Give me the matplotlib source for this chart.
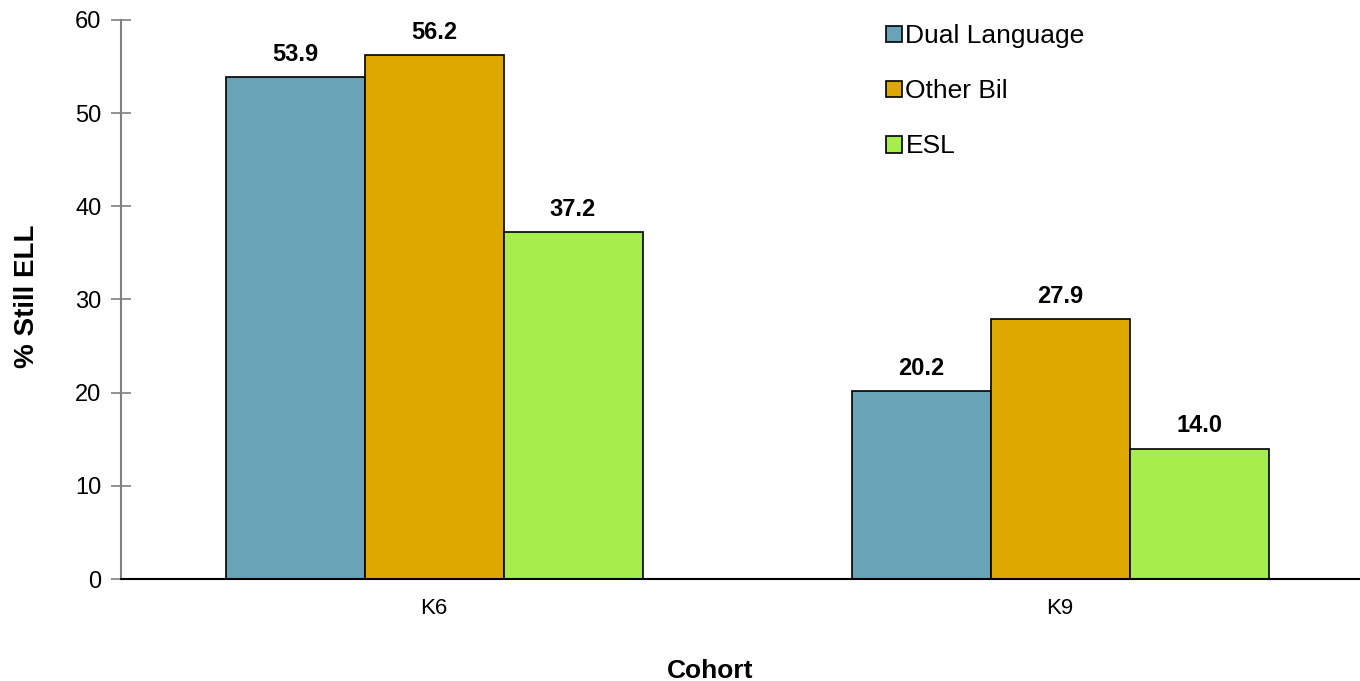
import matplotlib.pyplot as plt
import numpy as np
from matplotlib.patches import Patch

plt.rcParams["font.family"] = ["Liberation Sans", "DejaVu Sans"]

# Share of students still classified ELL, by cohort and program
cohorts = ["K6", "K9"]
programs = ["Dual Language", "Other Bil", "ESL"]
dual_language = [53.9, 20.2]
other_bil = [56.2, 27.9]
esl = [37.2, 14.0]
colors = ["#68A3B8", "#DDA900", "#A5EE4B"]

W, H = 1360, 681
fig = plt.figure(figsize=(W / 100, H / 100), dpi=100)
ax = fig.add_axes([121 / W, 1 - 579 / H, 1 - 121 / W, (579 - 20) / H])

x = np.arange(len(cohorts))
width = 0.222
series = [dual_language, other_bil, esl]
for i, (vals, col) in enumerate(zip(series, colors)):
    pos = x + (i - 1) * width
    ax.bar(pos, vals, width, color=col, edgecolor="black", linewidth=1.2, zorder=2)
    for px, v in zip(pos, vals):
        ax.text(px, v + 1.2, f"{v:.1f}", ha="center", va="bottom",
                fontsize=17, fontweight="bold")

ax.set_xlim(-0.5, 1.479)
ax.set_ylim(0, 60)
ax.set_yticks(range(0, 61, 10))
ax.set_xticks(x)
ax.set_xticklabels(cohorts)
ax.tick_params(axis="x", length=0, pad=14, labelsize=16)
ax.tick_params(axis="y", direction="inout", length=14, width=1.2, color="#808080",
               labelsize=17, pad=7)

for side in ["top", "right"]:
    ax.spines[side].set_visible(False)
ax.spines["left"].set_color("#808080")
ax.spines["left"].set_linewidth(1.5)
ax.spines["bottom"].set_color("black")
ax.spines["bottom"].set_linewidth(1.5)

# axis titles placed in figure coordinates
fig.text(27 / W, 1 - 296 / H, "% Still ELL", rotation=90, ha="center", va="center",
         fontsize=20, fontweight="bold")
fig.text(710 / W, 1 - 678 / H, "Cohort", ha="center", va="baseline",
         fontsize=19, fontweight="bold")

handles = [Patch(facecolor=c, edgecolor="black", linewidth=1.2) for c in colors]
ax.legend(handles, programs, loc="upper left", bbox_to_anchor=(0.598, 1.035),
          frameon=False, fontsize=19, handlelength=0.6, handleheight=0.6,
          handletextpad=0.15, labelspacing=1.18)

fig.savefig("out.png", dpi=100)
